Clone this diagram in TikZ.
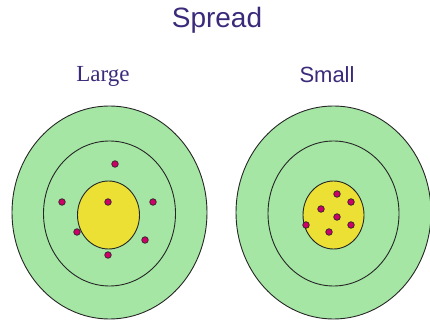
\documentclass[tikz,border=0pt]{standalone}
\usepackage{fontspec}
\setmainfont{Liberation Serif}
\setsansfont{Liberation Sans}
\definecolor{ringgreen}{HTML}{A5E6A5}
\definecolor{coreyellow}{HTML}{EBE033}
\definecolor{shotred}{HTML}{CC0066}
\definecolor{labelpurple}{HTML}{3B2A7A}
\tikzset{
  ring/.style={draw=black!85, line width=0.9pt},
  shot/.style={draw=black!85, line width=0.7pt, fill=shotred},
  label/.style={text=labelpurple, anchor=base, inner sep=0pt}
}
\begin{document}
\begin{tikzpicture}[x=1pt, y=-1pt]
    \useasboundingbox (0,0) rectangle (430,320);
    % titles
    \node[label, font=\sffamily\fontsize{28}{28}\selectfont] (title) at (217,28) {Spread};
    \node[label, font=\rmfamily\fontsize{23}{23}\selectfont] (large) at (103,82) {Large};
    \node[label, font=\sffamily\fontsize{22}{22}\selectfont] (small) at (327,83) {Small};
    % left target
    \draw[ring, fill=ringgreen] (109.5,212.5) ellipse[x radius=97.5, y radius=106.5];
    \draw[ring] (109.5,213.5) ellipse[x radius=66, y radius=72.5];
    \draw[ring, fill=coreyellow] (108.5,215) ellipse[x radius=31, y radius=34];
    \foreach \p in {(115,164),(62,202),(108,202),(153,202),(77,232),(145,240),(108,255)}
        \draw[shot] \p circle[radius=3.3];
    % right target
    \draw[ring, fill=ringgreen] (333.5,212.5) ellipse[x radius=97.5, y radius=106.5];
    \draw[ring] (333.5,213.5) ellipse[x radius=65.5, y radius=72.5];
    \draw[ring, fill=coreyellow] (333.5,215) ellipse[x radius=30.5, y radius=34];
    \foreach \p in {(337,194),(351,202),(321,209),(337,217),(306,225),(351,225),(329,232)}
        \draw[shot] \p circle[radius=3.3];
\end{tikzpicture}
\end{document}
